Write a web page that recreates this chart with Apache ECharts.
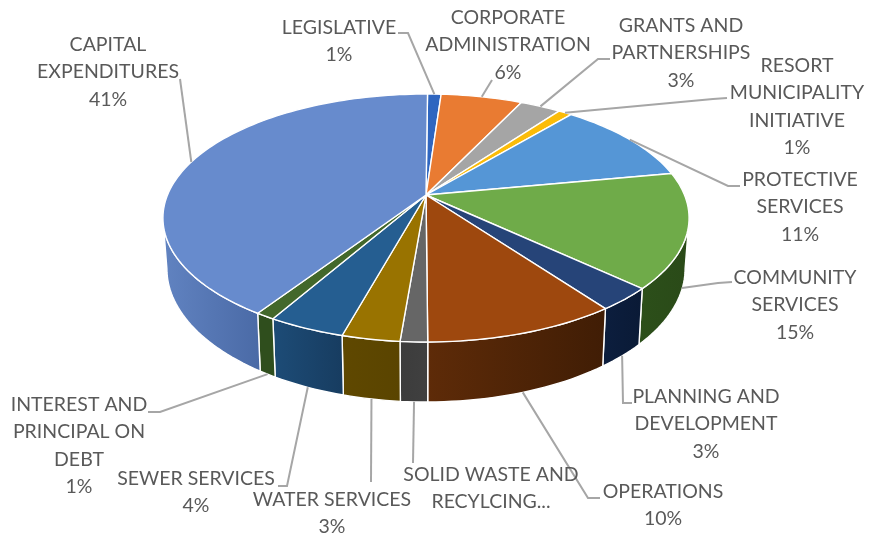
<!DOCTYPE html>
<html>
<head>
<meta charset="utf-8">
<style>html,body{margin:0;padding:0;background:#fff}#chart{width:879px;height:535px}</style>
<script src="https://cdn.jsdelivr.net/npm/echarts@6/dist/echarts.min.js"></script>
</head>
<body>
<div id="chart"></div>
<script>
// Budget shares, clockwise from twelve o'clock
const categories = [
  'LEGISLATIVE', 'CORPORATE ADMINISTRATION', 'GRANTS AND PARTNERSHIPS',
  'RESORT MUNICIPALITY INITIATIVE', 'PROTECTIVE SERVICES', 'COMMUNITY SERVICES',
  'PLANNING AND DEVELOPMENT', 'OPERATIONS', 'SOLID WASTE AND RECYLCING...',
  'WATER SERVICES', 'SEWER SERVICES', 'INTEREST AND PRINCIPAL ON DEBT', 'CAPITAL EXPENDITURES'
];
const shares = [1, 6, 3, 1, 11, 15, 3, 10, 1.4, 3, 4, 1, 41];
const showPercent = [true, true, true, true, true, true, true, true, false, true, true, true, true];

// Face colours, and the left/right colours of each outer wall
const faceColors = ['#2f66c0', '#e97b32', '#a5a5a5', '#fbbc09', '#5596d6', '#6fab49',
  '#264478', '#9e480e', '#666666', '#997300', '#255e91', '#43682b', '#678bcd'];
const wallColors = [
  ['#1c3d73', '#1c3d73'], ['#8c4a1e', '#8c4a1e'], ['#636363', '#636363'], ['#977006', '#977006'],
  ['#335a80', '#335a80'], ['#2c4f1a', '#2a4a18'], ['#0c1e3e', '#0a1a36'], ['#5e2b08', '#401d05'],
  ['#3c3c3c', '#404040'], ['#5f4800', '#5a4400'], ['#1d4c77', '#173c60'], ['#2f4e1d', '#2f4e1d'],
  ['#6183c1', '#4a6aa6']
];

// Projection of the tilted disc: apex position, radii, perspective strength, rim depth
const CX = 426, CY = 195, RX = 258.5, RY = 119.7, PERSP = 0.1855, DEPTH = 48.9, FLOOR_X = 0.985;
const WALL_FROM = 100.7, WALL_TO = 259.3, FIRST_ANGLE = 0.4;
const TOTAL = shares.reduce((a, b) => a + b, 0);
const starts = [];
shares.reduce((sum, v, i) => { starts[i] = FIRST_ANGLE + sum / TOTAL * 360; return sum + v; }, 0);
const endOf = i => starts[i] + shares[i] / TOTAL * 360;

// deg runs clockwise from the top of the disc
function rim(deg, lower) {
  const t = deg * Math.PI / 180, u = Math.sin(t), v = -Math.cos(t), w = 1 - PERSP * v;
  return lower
    ? [CX + RX * FLOOR_X * u / w, CY + (RY * v + DEPTH) / w]
    : [CX + RX * u / w, CY + RY * v / w];
}
function arc(a, b, lower) {
  const n = Math.max(2, Math.ceil(Math.abs(b - a) / 1.5)), pts = [];
  for (let i = 0; i <= n; i++) pts.push(rim(a + (b - a) * i / n, lower));
  return pts;
}

// Label placement: text centre, first line y, lines, leader elbow points, leader end on wall or face
const labelLayout = [
  { x: 339, y: 28, lines: ['LEGISLATIVE'], leader: [[398, 33], [408, 33]] },
  { x: 508, y: 18, lines: ['CORPORATE', 'ADMINISTRATION'], leader: [[492, 80]] },
  { x: 681, y: 26, lines: ['GRANTS AND', 'PARTNERSHIPS'], leader: [[610, 59], [598, 59]] },
  { x: 797, y: 66, lines: ['RESORT', 'MUNICIPALITY', 'INITIATIVE'], leader: [[727, 98], [713, 99]] },
  { x: 800, y: 180, lines: ['PROTECTIVE', 'SERVICES'], leader: [[740, 186], [728, 186]] },
  { x: 795, y: 278, lines: ['COMMUNITY', 'SERVICES'], leader: [[732, 282], [718, 283]], wall: [682, 288] },
  { x: 706, y: 397, lines: ['PLANNING AND', 'DEVELOPMENT'], leader: [[632, 403], [623, 403]], onWall: true },
  { x: 663, y: 492, lines: ['OPERATIONS'], leader: [[600, 498], [588, 498]], onWall: true },
  { x: 491, y: 475, lines: ['SOLID WASTE AND', 'RECYLCING...'], leader: [[413, 463]], onWall: true },
  { x: 332, y: 500, lines: ['WATER SERVICES'], leader: [[371, 482]], onWall: true },
  { x: 196, y: 479, lines: ['SEWER SERVICES'], leader: [[278, 486], [287, 486]], onWall: true },
  { x: 79, y: 405, lines: ['INTEREST AND', 'PRINCIPAL ON', 'DEBT'], leader: [[148, 412], [160, 412]], onWall: true },
  { x: 108, y: 45, lines: ['CAPITAL', 'EXPENDITURES'], leader: [[180, 79]] }
];
const LINE_H = 27.2;

function wallItem(params, api) {
  const i = params.dataIndex;
  const a = Math.max(starts[i], WALL_FROM), b = Math.min(endOf(i), WALL_TO);
  if (a >= b) return { type: 'group', children: [] };
  const pts = arc(a, b, false).concat(arc(b, a, true));
  return {
    type: 'polygon',
    shape: { points: pts },
    style: {
      fill: { type: 'linear', x: 0, y: 0, x2: 1, y2: 0, colorStops: [
        { offset: 0, color: wallColors[i][0] }, { offset: 1, color: wallColors[i][1] }
      ] },
      stroke: '#ffffff', lineWidth: 1.4, lineJoin: 'round'
    }
  };
}

function faceItem(params, api) {
  const i = params.dataIndex;
  return {
    type: 'polygon',
    shape: { points: [[CX, CY]].concat(arc(starts[i], endOf(i), false)) },
    style: { fill: faceColors[i], stroke: '#ffffff', lineWidth: 1.4, lineJoin: 'round' }
  };
}

function labelItem(params, api) {
  const i = params.dataIndex, cfg = labelLayout[i];
  const mid = (starts[i] + endOf(i)) / 2;
  const end = cfg.wall || rim(mid, !!cfg.onWall);
  const texts = cfg.lines.slice();
  if (showPercent[i]) texts.push(Math.round(api.value(0)) + '%');
  const children = [{
    type: 'polyline',
    shape: { points: cfg.leader.concat([end]) },
    style: { stroke: '#a6a6a6', lineWidth: 2, fill: null }
  }];
  texts.forEach((t, k) => children.push({
    type: 'text',
    style: {
      text: t, x: cfg.x, y: cfg.y + k * LINE_H,
      align: 'center', verticalAlign: 'middle',
      fontFamily: 'Lato', fontSize: 19.5, fill: '#595959'
    }
  }));
  return { type: 'group', children };
}

const seriesData = shares.map((v, i) => ({ name: categories[i], value: [v] }));
const chart = echarts.init(document.getElementById('chart'), null, { renderer: 'canvas' });
chart.setOption({
  animation: false,
  backgroundColor: '#ffffff',
  series: [
    { type: 'custom', coordinateSystem: 'none', renderItem: wallItem, data: seriesData, z: 1, silent: true },
    { type: 'custom', coordinateSystem: 'none', renderItem: faceItem, data: seriesData, z: 2, silent: true },
    { type: 'custom', coordinateSystem: 'none', renderItem: labelItem, data: seriesData, z: 3, silent: true }
  ]
});
</script>
</body>
</html>
